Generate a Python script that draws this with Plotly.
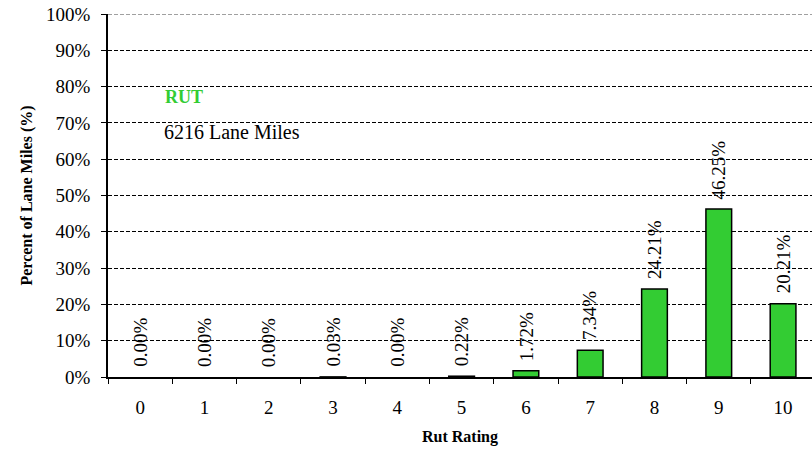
import plotly.graph_objects as go

# Rut rating distribution
ratings = ["0", "1", "2", "3", "4", "5", "6", "7", "8", "9", "10"]
percents = [0.00, 0.00, 0.00, 0.03, 0.00, 0.22, 1.72, 7.34, 24.21, 46.25, 20.21]
pct_labels = [f"{p:.2f}%" for p in percents]
y_ticks = list(range(0, 101, 10))
y_tick_text = [f"{v}%" for v in y_ticks]

serif = "Liberation Serif"

W, H = 812, 453
ML, MT, MB = 108, 14, 76
plot_w = W - ML
plot_h = H - MT - MB

fig = go.Figure()

fig.add_trace(
    go.Bar(
        x=ratings,
        y=percents,
        width=0.4,
        marker_color="#33CC33",
        marker_line_color="black",
        marker_line_width=[0 if p == 0 else 1.5 for p in percents],
        showlegend=False,
    )
)

# rotated data labels above each bar
for r, p, lbl in zip(ratings, percents, pct_labels):
    fig.add_annotation(
        x=r, y=p, text=lbl, textangle=-90,
        xanchor="center", yanchor="bottom", yshift=8,
        showarrow=False, font=dict(family=serif, size=19, color="black"),
    )

# title text inside the plot (pixel positions converted to paper coords)
fig.add_annotation(
    xref="paper", yref="paper",
    x=(163 - ML) / plot_w, y=1 - (97 - MT) / plot_h,
    xanchor="left", yanchor="middle",
    text="<b>RUT</b>", showarrow=False,
    font=dict(family=serif, size=18, color="#33CC33"),
)
fig.add_annotation(
    xref="paper", yref="paper",
    x=(162 - ML) / plot_w, y=1 - (132 - MT) / plot_h,
    xanchor="left", yanchor="middle",
    text="6216 Lane Miles", showarrow=False,
    font=dict(family=serif, size=20, color="black"),
)

fig.update_layout(
    width=W,
    height=H,
    margin=dict(l=ML, r=0, t=MT, b=MB, autoexpand=False),
    plot_bgcolor="white",
    paper_bgcolor="white",
    font=dict(family=serif, color="black"),
)

fig.update_xaxes(
    type="category",
    range=[-0.5, 10.45],
    showline=True, linecolor="black", linewidth=1.5,
    ticks="outside", tickson="boundaries", ticklen=5, tickcolor="black",
    ticklabelstandoff=12,
    tickfont=dict(family=serif, size=19),
    showgrid=False,
    title=dict(text="<b>Rut Rating</b>", font=dict(family=serif, size=16), standoff=14),
)

fig.update_yaxes(
    range=[0, 100],
    tickvals=y_ticks, ticktext=y_tick_text,
    showline=True, linecolor="black", linewidth=1.5,
    ticks="outside", ticklen=5, tickcolor="black",
    ticklabelstandoff=7,
    tickfont=dict(family=serif, size=19),
    showgrid=True, gridcolor="black", griddash="4px,2px", gridwidth=1.2,
    zeroline=False,
    title=dict(text="<b>Percent of Lane Miles (%)</b>", font=dict(family=serif, size=16), standoff=10),
)

# top border line is grey dashed
fig.add_shape(
    type="line", xref="paper", yref="y", x0=0, x1=1, y0=100, y1=100,
    line=dict(color="#a0a0a0", width=2, dash="4px,2px"), layer="above",
)

# drop the default page margin so the figure fills the window exactly
fig.write_html(
    "out.html",
    config={"displayModeBar": False},
    post_script="document.body.style.margin='0';",
)
